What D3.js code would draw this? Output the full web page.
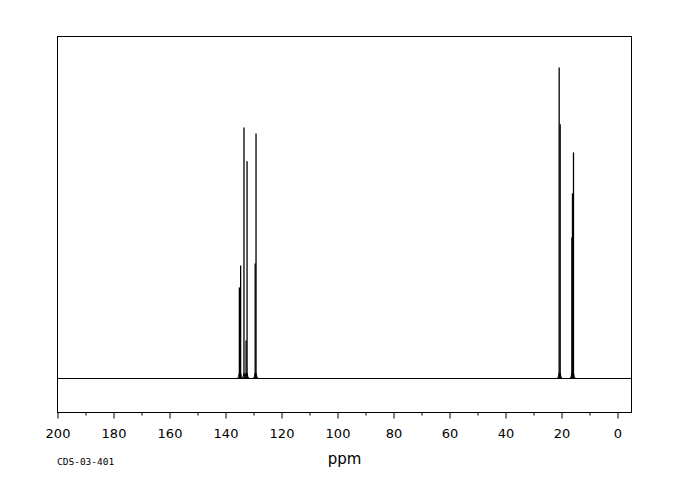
<!DOCTYPE html>
<html>
<head>
<meta charset="utf-8">
<script src="https://cdn.jsdelivr.net/npm/d3@7"></script>
<style>
  body { margin: 0; background: #fff; }
  svg { display: block; }
</style>
</head>
<body>
<svg id="chart" width="680" height="500"></svg>
<script>
// Peak positions (ppm) and relative intensities
const peakShifts = [135.05, 134.6, 133.4, 132.65, 132.3, 129.4, 129.1, 20.83, 20.47, 16.29, 16.08, 15.72];
const peakHeights = [26.6, 33.0, 73.4, 11.1, 63.5, 33.6, 71.6, 90.9, 74.3, 41.2, 54.1, 66.1];
const tickValues = [200, 180, 160, 140, 120, 100, 80, 60, 40, 20, 0];
const minorTickValues = [190, 170, 150, 130, 110, 90, 70, 50, 30, 10];
const xLabel = "ppm";
const codeLabel = "CDS-03-401";

const svg = d3.select("#chart");
const pLeft = 57.5, pRight = 631.5, pTop = 36.5, pBottom = 412.5;

const x = d3.scaleLinear().domain([200, -5]).range([pLeft, pRight]);
const y = d3.scaleLinear().domain([-10, 100]).range([pBottom, pTop]);

// frame
svg.append("rect")
  .attr("x", pLeft).attr("y", pTop)
  .attr("width", pRight - pLeft).attr("height", pBottom - pTop)
  .attr("fill", "none").attr("stroke", "#000").attr("stroke-width", 1);

const baseY = Math.round(y(0)) + 0.5;

// baseline
svg.append("line")
  .attr("x1", x(200)).attr("x2", x(-5))
  .attr("y1", baseY).attr("y2", baseY)
  .attr("stroke", "#000").attr("stroke-width", 1);

// peaks
const peaks = peakShifts.map((s, i) => ({ s, h: peakHeights[i] }));
svg.append("g").selectAll("line")
  .data(peaks)
  .join("line")
  .attr("x1", d => x(d.s)).attr("x2", d => x(d.s))
  .attr("y1", baseY)
  .attr("y2", d => y(d.h))
  .attr("stroke", "#000").attr("stroke-width", 1.3);

// small bumps at the base of each peak
const bumpLine = d3.line().x(d => x(d[0])).y(d => y(d[1]));
peaks.forEach(d => {
  svg.append("path")
    .attr("d", bumpLine([[d.s + 0.6, 0], [d.s + 0.25, 0.6], [d.s, 1.5], [d.s - 0.25, 0.6], [d.s - 0.6, 0]]))
    .attr("fill", "none").attr("stroke", "#000").attr("stroke-width", 1);
});

// axis
const axis = d3.axisBottom(x).tickValues(tickValues).tickSize(6).tickPadding(10).tickFormat(d3.format("d"));
const gAxis = svg.append("g").attr("transform", `translate(0,${pBottom})`).call(axis);
gAxis.select(".domain").remove();
gAxis.selectAll("text")
  .attr("font-family", "DejaVu Sans").attr("font-size", 13).attr("fill", "#000");
gAxis.selectAll(".tick line").attr("stroke", "#000");

const minorAxis = d3.axisBottom(x).tickValues(minorTickValues).tickSize(3).tickFormat("");
const gMinor = svg.append("g").attr("transform", `translate(0,${pBottom})`).call(minorAxis);
gMinor.select(".domain").remove();
gMinor.selectAll(".tick line").attr("stroke", "#000");

// labels
svg.append("text")
  .attr("x", (pLeft + pRight) / 2).attr("y", 464)
  .attr("text-anchor", "middle")
  .attr("font-family", "DejaVu Sans").attr("font-size", 15)
  .attr("fill", "#000")
  .text(xLabel);

svg.append("text")
  .attr("x", 57).attr("y", 465)
  .attr("font-family", "DejaVu Sans Mono").attr("font-size", 9.5)
  .attr("fill", "#000")
  .text(codeLabel);
</script>
</body>
</html>
